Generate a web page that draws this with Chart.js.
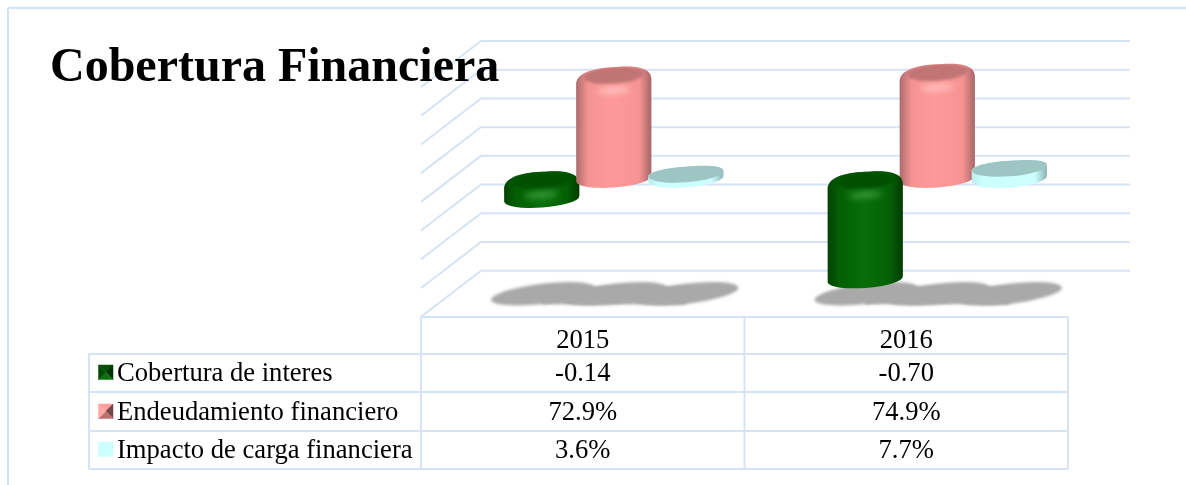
<!DOCTYPE html>
<html>
<head>
<meta charset="utf-8">
<title>Cobertura Financiera</title>
<style>
  html, body { margin: 0; padding: 0; background: #fff; }
  #wrap { position: relative; width: 1186px; height: 485px; overflow: hidden; }
</style>
</head>
<body>
<div id="wrap"><canvas id="chart" width="1186" height="485"></canvas></div>
<script src="https://cdn.jsdelivr.net/npm/chart.js@4"></script>
<script>
// data
const chartTitle = 'Cobertura Financiera';
const years = ['2015', '2016'];
const seriesNames = ['Cobertura de interes', 'Endeudamiento financiero', 'Impacto de carga financiera'];
const coberturaInteres = [-0.14, -0.70];
const endeudamiento = [0.729, 0.749];
const impactoCarga = [0.036, 0.077];
const cellFormats = [v => v.toFixed(2), v => (v * 100).toFixed(1) + '%', v => (v * 100).toFixed(1) + '%'];

const LINE = '#d5e3f5';
const SERIF = '"Liberation Serif", serif';
// the bars stand about halfway through the box, walls are one step back / front
const FRONT_X = 31, BACK_X = 29, DEPTH_Y = 23;
const TILT = 0.075, CAP_B = 8.6;

const looks = [
  { edgeL: '#004400', side: '#055f05', mid: '#086e08', edgeR: '#003a00', cap: '#005000', glow: '#3c9c3c', inset: 7, shoulder: 7.7 },
  { edgeL: '#ad6b6b', side: '#f59393', mid: '#ff9999', edgeR: '#a56666', cap: '#c17474', glow: '#ffc4c4', inset: 7, shoulder: 7.7 },
  { edgeL: '#bdeeee', side: '#ccffff', mid: '#ccffff', edgeR: '#8db3b3', cap: '#9dc5c3', glow: null, inset: 0, shoulder: 0 }
];

function segment(ctx, x1, y1, x2, y2) {
  ctx.beginPath();
  ctx.moveTo(x1, y1);
  ctx.lineTo(x2, y2);
  ctx.stroke();
}

function drawCylinder(ctx, bar, look) {
  const cx = bar.x, half = bar.width / 2;
  const top = Math.min(bar.y, bar.base), bot = Math.max(bar.y, bar.base);
  const xl = cx - half, xr = cx + half;
  const lift = half * Math.sin(TILT);
  const s = look.shoulder * Math.min(1, (bot - top) / 20);

  ctx.save();
  ctx.beginPath();
  ctx.moveTo(xl, top + lift + s);
  ctx.bezierCurveTo(xl, top - 1, cx - 22, top - 6, cx, top - 7);
  ctx.bezierCurveTo(cx + 14, top - 8.2, xr, top - 9, xr, top - lift + s);
  ctx.lineTo(xr, bot - lift);
  ctx.ellipse(cx, bot, half, CAP_B, -TILT, 0, Math.PI);
  ctx.closePath();

  const body = ctx.createLinearGradient(xl, 0, xr, 0);
  body.addColorStop(0, look.edgeL);
  body.addColorStop(0.16, look.side);
  body.addColorStop(0.5, look.mid);
  body.addColorStop(0.84, look.side);
  body.addColorStop(1, look.edgeR);
  ctx.fillStyle = body;
  ctx.fill();
  ctx.clip();

  // dark top face, and the light spot on the rounded rim under it
  ctx.filter = look.inset ? 'blur(1.5px)' : 'none';
  ctx.fillStyle = look.cap;
  ctx.beginPath();
  ctx.ellipse(cx, top + (look.inset ? 1 : 0), half - look.inset, CAP_B, -TILT, 0, Math.PI * 2);
  ctx.fill();
  if (look.glow) {
    ctx.filter = 'blur(3px)';
    ctx.fillStyle = look.glow;
    ctx.beginPath();
    ctx.ellipse(cx, top + CAP_B + 7.5, 17, 3, -TILT, 0, Math.PI * 2);
    ctx.fill();
  }
  ctx.restore();
}

function drawKey(ctx, x, y, size, colors) {
  const c = size / 2;
  const corners = [[0, 0], [size, 0], [size, size], [0, size]];
  colors.forEach((color, i) => {
    const a = corners[i], b = corners[(i + 1) % 4];
    ctx.fillStyle = color;
    ctx.beginPath();
    ctx.moveTo(x + a[0], y + a[1]);
    ctx.lineTo(x + b[0], y + b[1]);
    ctx.lineTo(x + c, y + c);
    ctx.closePath();
    ctx.fill();
    ctx.strokeStyle = color;
    ctx.lineWidth = 0.5;
    ctx.stroke();
  });
}

// walls and floor shadows go under the bars
const boxPlugin = {
  id: 'box',
  beforeDatasetsDraw(chart) {
    const { ctx, scales: { x, y } } = chart;
    const left = x.left, right = x.right;
    ctx.save();
    ctx.strokeStyle = LINE;
    ctx.lineWidth = 2;
    // outer frame
    segment(ctx, 8, 485, 8, 8);
    segment(ctx, 8, 8, 1186, 8);
    y.ticks.forEach(t => {
      const py = y.getPixelForValue(t.value);
      ctx.beginPath();
      ctx.moveTo(left - FRONT_X, py + DEPTH_Y);
      ctx.lineTo(left + BACK_X, py - DEPTH_Y);
      ctx.lineTo(right + BACK_X + 2, py - DEPTH_Y);
      ctx.stroke();
    });
    // floor shadows, one blob per bar run together into a band
    ctx.filter = 'blur(1.5px)';
    ctx.fillStyle = '#a9a9a9';
    const first = chart.getDatasetMeta(0).data;
    const last = chart.getDatasetMeta(chart.data.datasets.length - 1).data;
    first.forEach((bar, j) => {
      ctx.fillRect(bar.x, y.bottom - 7, last[j].x - bar.x, 17.5);
    });
    chart.data.datasets.forEach((ds, i) => {
      chart.getDatasetMeta(i).data.forEach(bar => {
        ctx.beginPath();
        ctx.ellipse(bar.x + 1, y.bottom, 52, 10, -0.12, 0, Math.PI * 2);
        ctx.fill();
      });
    });
    ctx.restore();
  },
  afterDatasetsDraw(chart) {
    const { ctx, scales: { x } } = chart;
    // long negative bars come forward over their neighbour
    const late = [];
    chart.data.datasets.forEach((ds, i) => {
      chart.getDatasetMeta(i).data.forEach((bar, j) => {
        if (ds.data[j] < -0.5) late.push([bar, looks[i]]);
        else drawCylinder(ctx, bar, looks[i]);
      });
    });
    late.forEach(item => drawCylinder(ctx, item[0], item[1]));

    // data table under the box, its columns are the x scale moved to the front wall
    const colLeft = x.left - FRONT_X, colRight = x.right - FRONT_X;
    const step = (colRight - colLeft) / years.length;
    const tableLeft = 89, headTop = 317;
    const rowLines = [354, 392, 431, 469];
    const rowBase = [381, 420, 458];
    const keyTop = [365, 404, 442];
    const keyColors = [
      ['#0a4d0a', '#003300', '#0b7411', '#004a00'],
      ['#ff9c9c', '#754848', '#bd7070', '#ffa6a6'],
      ['#ccffff', '#ccffff', '#ccffff', '#ccffff']
    ];

    ctx.save();
    ctx.strokeStyle = LINE;
    ctx.lineWidth = 2;
    segment(ctx, colLeft, headTop, colRight, headTop);
    rowLines.forEach(py => segment(ctx, tableLeft, py, colRight, py));
    segment(ctx, tableLeft, rowLines[0], tableLeft, rowLines[3]);
    years.forEach((yr, i) => segment(ctx, colLeft + i * step, headTop, colLeft + i * step, rowLines[3]));
    segment(ctx, colRight, headTop, colRight, rowLines[3]);

    ctx.fillStyle = '#000';
    ctx.textBaseline = 'alphabetic';
    ctx.font = '26.6px ' + SERIF;
    ctx.textAlign = 'center';
    years.forEach((yr, i) => ctx.fillText(yr, colLeft + (i + 0.5) * step, 348));
    chart.data.datasets.forEach((ds, r) => {
      ctx.fillStyle = '#000';
      ctx.textAlign = 'left';
      ctx.fillText(seriesNames[r], 117, rowBase[r]);
      ctx.textAlign = 'center';
      ds.data.forEach((v, i) => ctx.fillText(cellFormats[r](v), colLeft + (i + 0.5) * step, rowBase[r]));
      drawKey(ctx, 98.5, keyTop[r], 14.5, keyColors[r]);
    });

    // title sits on top of the wall lines
    ctx.fillStyle = '#000';
    ctx.textAlign = 'left';
    ctx.font = 'bold 48px ' + SERIF;
    ctx.fillText(chartTitle, 50, 81);
    ctx.restore();
  }
};

new Chart(document.getElementById('chart'), {
  type: 'bar',
  data: {
    labels: years,
    datasets: [
      { label: seriesNames[0], data: coberturaInteres },
      { label: seriesNames[1], data: endeudamiento },
      { label: seriesNames[2], data: impactoCarga }
    ].map(ds => ({ ...ds, backgroundColor: 'rgba(0,0,0,0)', categoryPercentage: 0.668, barPercentage: 1.045 }))
  },
  options: {
    responsive: false,
    animation: false,
    layout: { padding: { left: 452, right: 87, top: 64, bottom: 191.3 } },
    plugins: { legend: { display: false }, tooltip: { enabled: false } },
    scales: {
      x: { display: false },
      y: { display: false, min: -0.8, max: 0.8, ticks: { stepSize: 0.2 } }
    }
  },
  plugins: [boxPlugin]
});
</script>
</body>
</html>
